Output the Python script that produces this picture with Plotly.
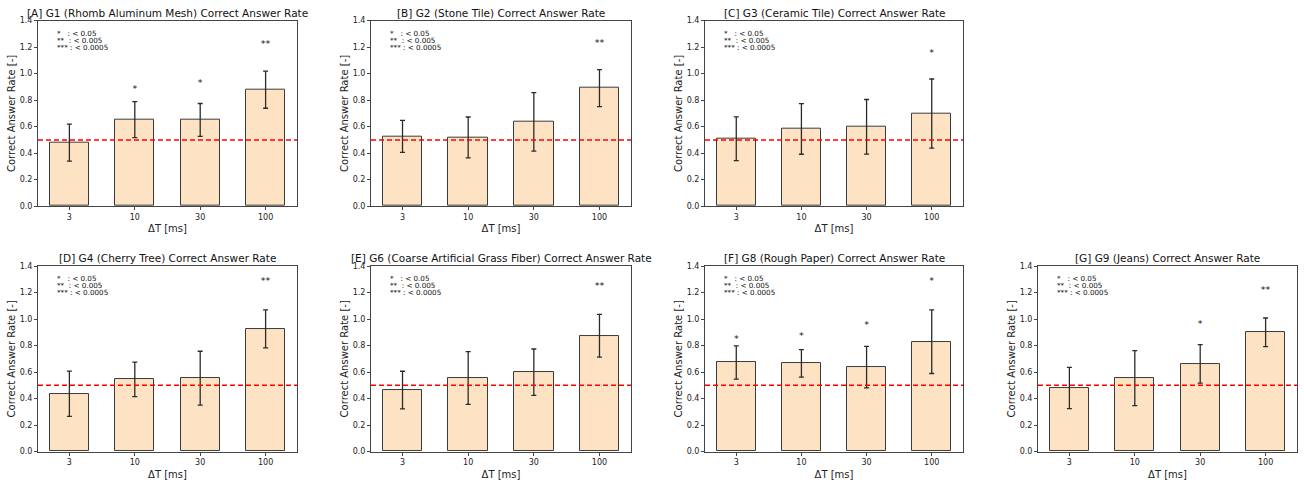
import plotly.graph_objects as go

categories = ["3", "10", "30", "100"]

titles = [
    "[A] G1 (Rhomb Aluminum Mesh) Correct Answer Rate",
    "[B] G2 (Stone Tile) Correct Answer Rate",
    "[C] G3 (Ceramic Tile) Correct Answer Rate",
    "[D] G4 (Cherry Tree) Correct Answer Rate",
    "[E] G6 (Coarse Artificial Grass Fiber) Correct Answer Rate",
    "[F] G8 (Rough Paper) Correct Answer Rate",
    "[G] G9 (Jeans) Correct Answer Rate",
]

rate_A = [0.48, 0.653, 0.651, 0.879]
rate_B = [0.527, 0.519, 0.636, 0.891]
rate_C = [0.509, 0.583, 0.599, 0.699]
rate_D = [0.436, 0.545, 0.554, 0.926]
rate_E = [0.464, 0.555, 0.599, 0.874]
rate_F = [0.672, 0.665, 0.637, 0.829]
rate_G = [0.480, 0.554, 0.662, 0.900]

err_A = [0.140, 0.136, 0.124, 0.140]
err_B = [0.121, 0.154, 0.221, 0.139]
err_C = [0.165, 0.191, 0.206, 0.261]
err_D = [0.171, 0.130, 0.203, 0.143]
err_E = [0.142, 0.199, 0.175, 0.162]
err_F = [0.125, 0.104, 0.157, 0.240]
err_G = [0.156, 0.208, 0.145, 0.108]

sig_A = ["", "*", "*", "**"]
sig_B = ["", "", "", "**"]
sig_C = ["", "", "", "*"]
sig_D = ["", "", "", "**"]
sig_E = ["", "", "", "**"]
sig_F = ["*", "*", "*", "*"]
sig_G = ["", "", "*", "**"]

sig_y_A = [None, 0.883, 0.925, 1.222]
sig_y_B = [None, None, None, 1.224]
sig_y_C = [None, None, None, 1.150]
sig_y_D = [None, None, None, 1.281]
sig_y_E = [None, None, None, 1.244]
sig_y_F = [0.841, 0.866, 0.950, 1.279]
sig_y_G = [None, None, 0.957, 1.212]

chance_level = 0.5
y_ticks = [0.0, 0.2, 0.4, 0.6, 0.8, 1.0, 1.2, 1.4]
legend_lines = ["*   : < 0.05", "**  : < 0.005", "*** : < 0.0005"]

rates = [rate_A, rate_B, rate_C, rate_D, rate_E, rate_F, rate_G]
errs = [err_A, err_B, err_C, err_D, err_E, err_F, err_G]
sigs = [sig_A, sig_B, sig_C, sig_D, sig_E, sig_F, sig_G]
sig_ys = [sig_y_A, sig_y_B, sig_y_C, sig_y_D, sig_y_E, sig_y_F, sig_y_G]

W, H = 1304, 485
col_px = [(38, 297), (371, 631), (705, 963), (1038, 1297)]
row_px = [(17, 206), (267, 456)]
positions = [(0, 0), (0, 1), (0, 2), (1, 0), (1, 1), (1, 2), (1, 3)]
legend_line_y = [0.932, 0.895, 0.858]
bar_width = 0.6
x_pos = list(range(len(categories)))
x_range = [-0.48, len(categories) - 1 + 0.48]

FONT = "DejaVu Sans"
AX_COLOR = "#444444"
fig = go.Figure()
layout = {}
annotations = []

for i, (r, c) in enumerate(positions):
    n = i + 1
    xa = "x" if n == 1 else f"x{n}"
    ya = "y" if n == 1 else f"y{n}"
    x0, x1 = col_px[c]
    y0, y1 = row_px[r]
    xdom = [x0 / W, x1 / W]
    ydom = [1 - y1 / H, 1 - y0 / H]

    fig.add_trace(go.Bar(
        x=x_pos, y=rates[i], width=bar_width,
        marker=dict(color="#FDE3C4", line=dict(color="#3a3a3a", width=1)),
        error_y=dict(type="data", array=errs[i], visible=True,
                     color="#2a2a2a", thickness=1.3, width=2.5),
        xaxis=xa, yaxis=ya, showlegend=False, hoverinfo="skip",
    ))

    # chance level (dashed red)
    fig.add_trace(go.Scatter(
        x=x_range, y=[chance_level, chance_level], mode="lines",
        line=dict(color="#ff0000", width=1.4, dash="5px,3px"),
        xaxis=xa, yaxis=ya, showlegend=False, hoverinfo="skip", cliponaxis=False,
    ))

    # significance stars
    sx = [p for p, s in zip(x_pos, sigs[i]) if s]
    sy = [v for v, s in zip(sig_ys[i], sigs[i]) if s]
    st = [s for s in sigs[i] if s]
    fig.add_trace(go.Scatter(
        x=sx, y=sy, text=st, mode="text", textposition="middle center",
        textfont=dict(size=9.5, color="#111", family=FONT),
        xaxis=xa, yaxis=ya, showlegend=False, hoverinfo="skip",
    ))

    axis_common = dict(showline=True, linecolor=AX_COLOR, linewidth=1, mirror=True,
                       ticks="outside", ticklen=3, tickcolor=AX_COLOR,
                       tickfont=dict(size=8, color="#222", family=FONT),
                       showgrid=False, zeroline=False)
    layout["xaxis" if n == 1 else f"xaxis{n}"] = dict(
        domain=xdom, anchor=ya, range=x_range,
        tickvals=x_pos, ticktext=categories,
        title=dict(text="ΔT [ms]", font=dict(size=10, color="#222", family=FONT), standoff=4),
        **axis_common)
    layout["yaxis" if n == 1 else f"yaxis{n}"] = dict(
        domain=ydom, anchor=xa, range=[0, 1.4], tickvals=y_ticks,
        ticktext=[f"{v:.1f}" for v in y_ticks],
        title=dict(text="Correct Answer Rate [-]", font=dict(size=10, color="#222", family=FONT), standoff=2),
        **axis_common)

    # title
    annotations.append(dict(
        text=titles[i], xref="paper", yref="paper",
        x=(xdom[0] + xdom[1]) / 2, y=ydom[1], yshift=0,
        xanchor="center", yanchor="bottom", showarrow=False,
        font=dict(size=10.5, color="#111", family=FONT)))
    # significance legend
    for line, ly in zip(legend_lines, legend_line_y):
        annotations.append(dict(
            text=line, xref="paper", yref="paper",
            x=xdom[0] + 0.07 * (xdom[1] - xdom[0]),
            y=ydom[0] + ly * (ydom[1] - ydom[0]),
            xanchor="left", yanchor="middle", align="left", borderpad=0,
            showarrow=False, font=dict(size=7.2, color="#111", family=FONT)))

fig.update_layout(
    width=W, height=H,
    margin=dict(l=0, r=0, t=0, b=0),
    paper_bgcolor="white", plot_bgcolor="white",
    annotations=annotations,
    bargap=0, font=dict(family=FONT),
    **layout,
)

fig.write_html("out.html")
